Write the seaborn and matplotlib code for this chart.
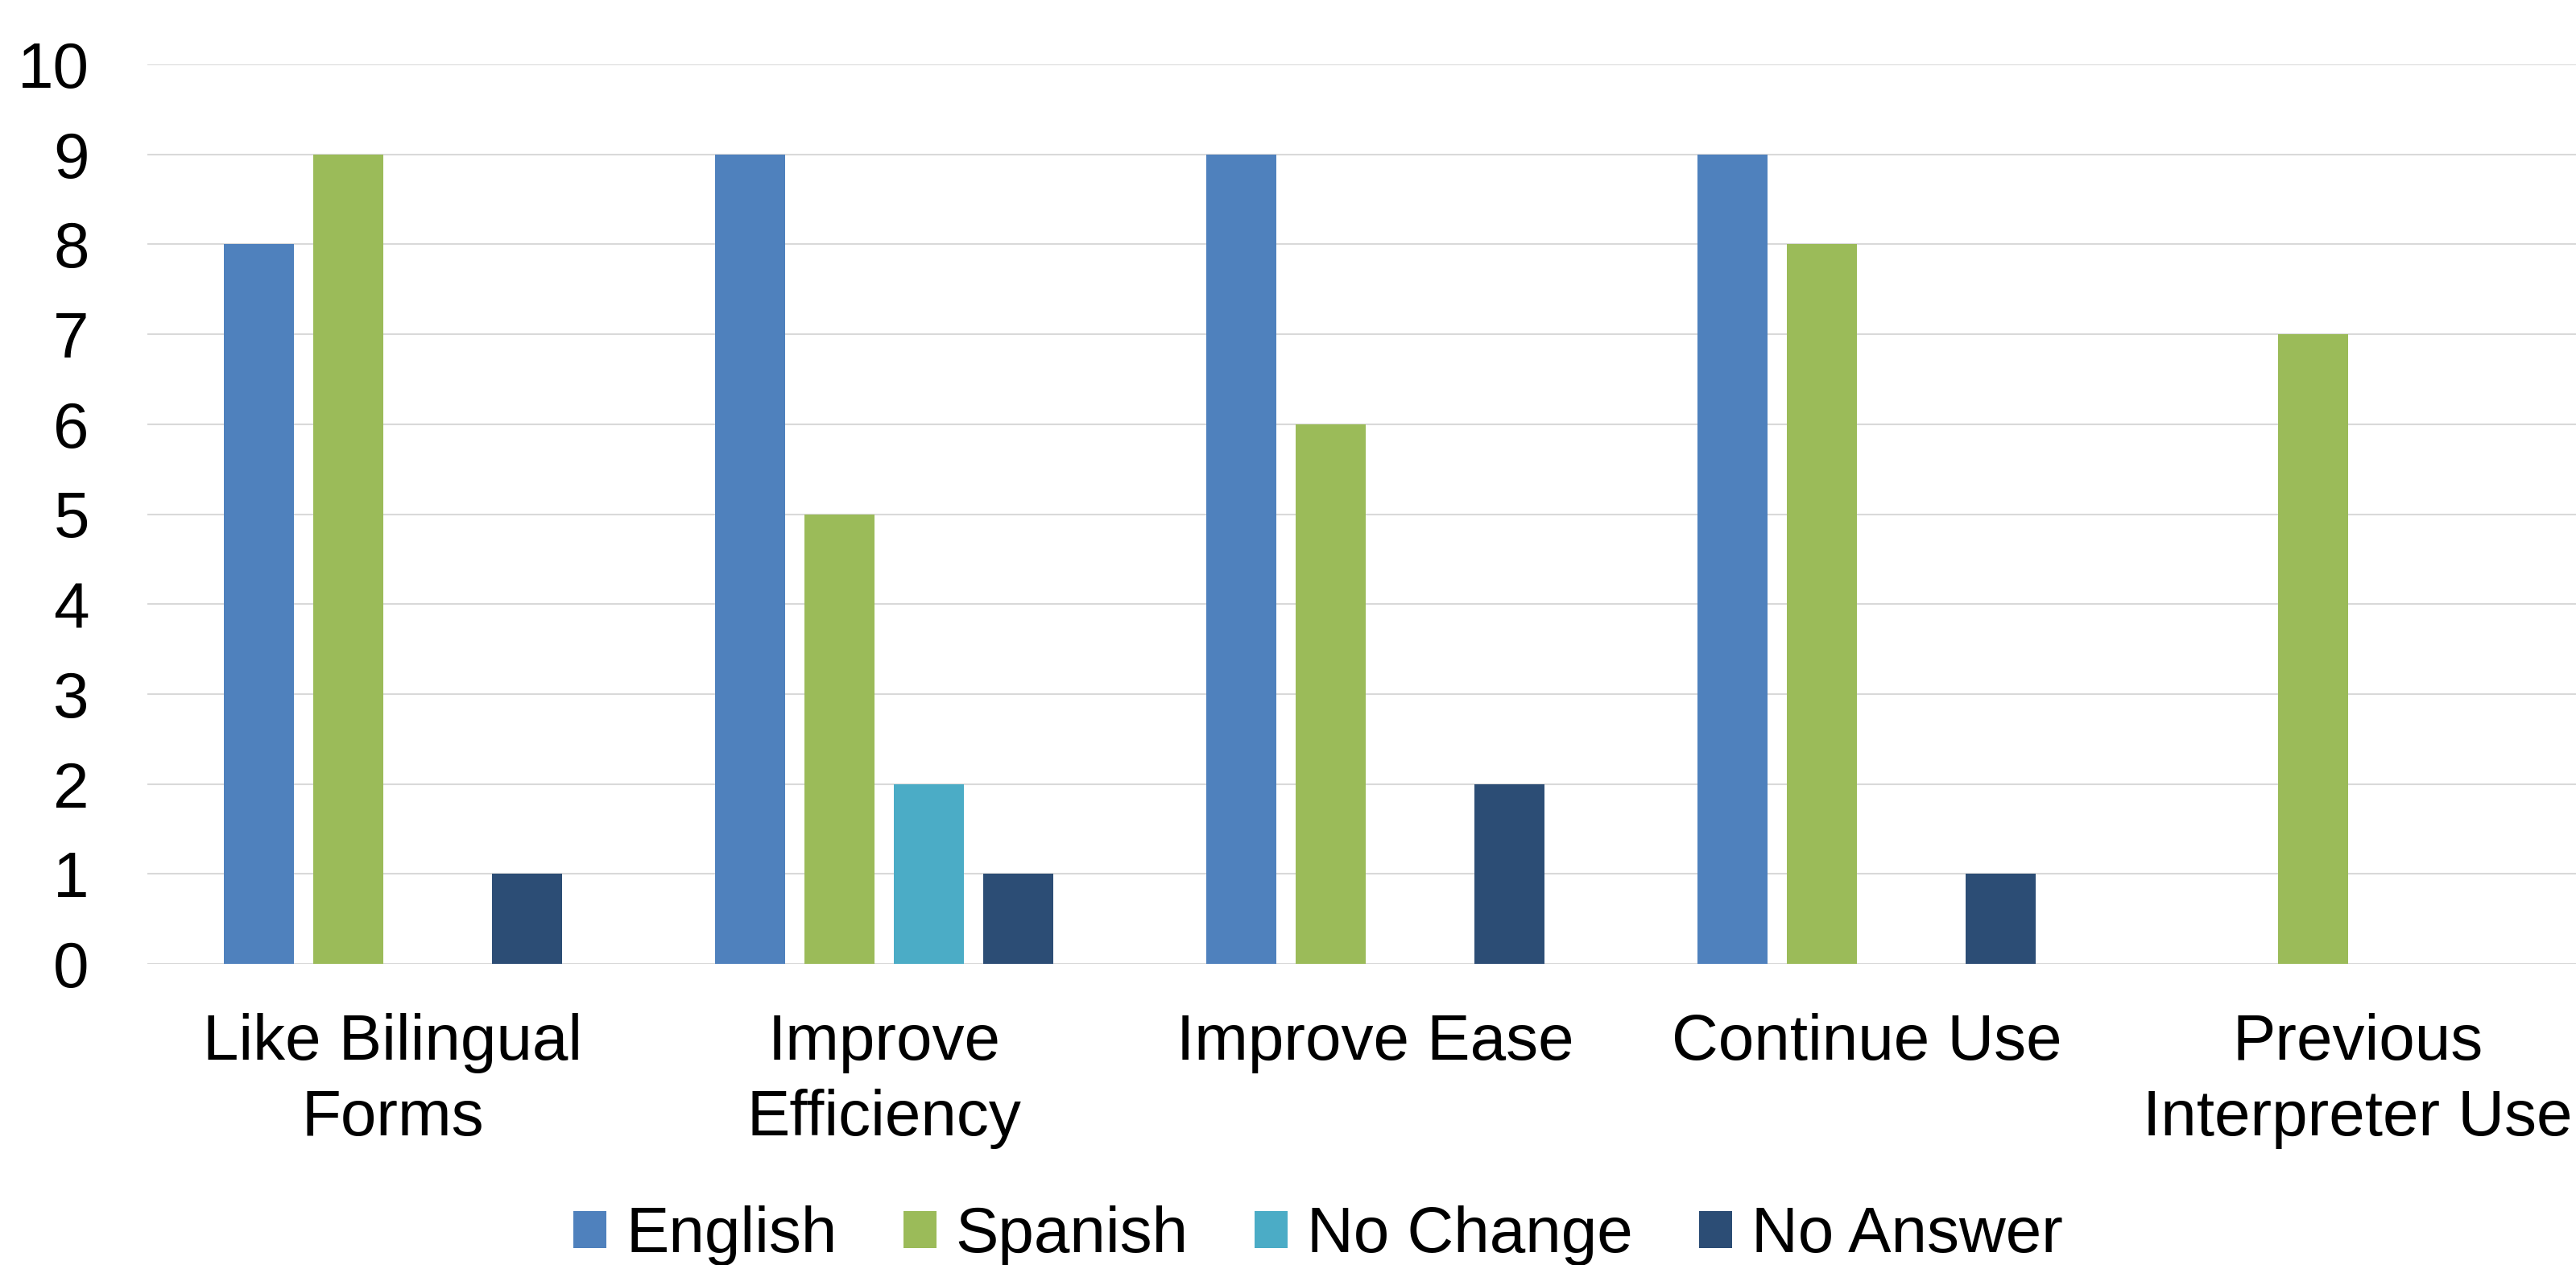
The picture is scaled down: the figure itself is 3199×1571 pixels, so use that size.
import matplotlib
matplotlib.use("Agg")
import matplotlib.pyplot as plt
import seaborn as sns
import pandas as pd

categories = ["Like Bilingual\nForms", "Improve\nEfficiency", "Improve Ease",
              "Continue Use", "Previous\nInterpreter Use"]
series = ["English", "Spanish", "No Change", "No Answer"]
english = [8, 9, 9, 9, 0]
spanish = [9, 5, 6, 8, 7]
no_change = [0, 2, 0, 0, 0]
no_answer = [1, 1, 2, 1, 0]
colors = ["#4F81BD", "#9BBB59", "#4BACC6", "#2C4D75"]
yticks = [0, 1, 2, 3, 4, 5, 6, 7, 8, 9, 10]

rows = []
for s, vals in zip(series, [english, spanish, no_change, no_answer]):
    for c, v in zip(categories, vals):
        rows.append({"category": c, "series": s, "value": v})
df = pd.DataFrame(rows)

sns.set_theme(style="white")
plt.rcParams["font.family"] = ["Liberation Sans", "DejaVu Sans"]
plt.rcParams["text.color"] = "black"

W, H = 3199, 1571
fig = plt.figure(figsize=(W / 100, H / 100), dpi=100)
ax = fig.add_axes([183 / W, 1 - 1197 / H, 3050 / W, (1197 - 80) / H])

sns.barplot(data=df, x="category", y="value", hue="series", order=categories,
            hue_order=series, palette=colors, saturation=1, width=0.728,
            gap=0.22, linewidth=0, ax=ax, legend=True)

ax.set_xlim(-0.5, 4.5)
ax.set_ylim(0, 10)
ax.set_yticks(yticks)
ax.set_xlabel("")
ax.set_ylabel("")
ax.yaxis.grid(True, color="#D9D9D9", linewidth=1.5)
ax.set_axisbelow(True)
for sp in ax.spines.values():
    sp.set_visible(False)
ax.tick_params(axis="y", length=0, pad=52, labelsize=57.6, labelcolor="black")
ax.tick_params(axis="x", length=0, pad=44, labelsize=57.6, labelcolor="black")
for t in ax.get_xticklabels():
    t.set_linespacing(1.32)

handles, labels = ax.get_legend_handles_labels()
ax.get_legend().remove()
leg = fig.legend(handles, labels, loc="center", bbox_to_anchor=(1637 / W, 1 - 1535 / H),
                 ncol=4, frameon=False, fontsize=57.6, handlelength=0.51,
                 handleheight=0.51, handletextpad=0.3, columnspacing=1.03,
                 borderpad=0, borderaxespad=0)
for t in leg.get_texts():
    t.set_color("black")

fig.savefig("out.png", dpi=100)
